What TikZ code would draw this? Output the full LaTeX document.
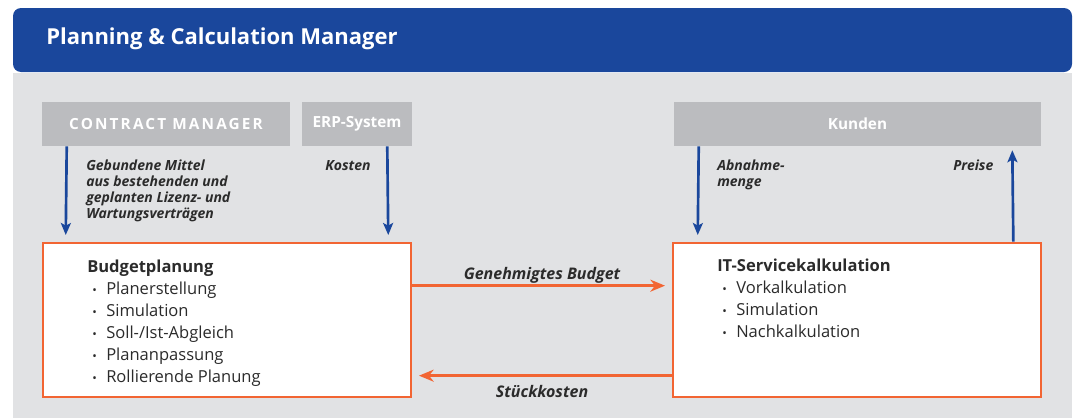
\documentclass[tikz,border=0pt]{standalone}
\usepackage{fontspec}
\setmainfont{Open Sans}
\usetikzlibrary{arrows.meta,calc}

\definecolor{pcmblue}{HTML}{1A479C}
\definecolor{panelgray}{HTML}{E1E2E4}
\definecolor{boxgray}{HTML}{BBBCBF}
\definecolor{pcmorange}{HTML}{F26533}
\definecolor{textdark}{HTML}{2B2B2B}

\newcommand{\bulletline}[1]{\hspace*{3.75pt}\makebox[10.5pt][l]{\raisebox{0.6pt}{\fontsize{9}{9}\selectfont\textbullet}}#1}

\tikzset{
  graybox/.style={fill=boxgray, text=white, inner sep=0pt, minimum height=33pt,
    font=\fontsize{11.5}{13}\selectfont\bfseries},
  taskbox/.style={draw=pcmorange, fill=white, line width=2pt, inner sep=0pt,
    minimum width=276pt, minimum height=115.5pt},
  tasktext/.style={anchor=north west, inner sep=0pt, align=left, text=textdark,
    font=\fontsize{12.4}{16.5}\selectfont},
  flowlabel/.style={anchor=north west, inner sep=0pt, align=left, text=textdark,
    font=\fontsize{10.5}{12}\selectfont\bfseries\itshape},
  bluearrow/.style={draw=pcmblue, line width=2pt,
    -{Stealth[length=9pt,width=7.5pt,inset=2pt]}},
  orangearrow/.style={draw=pcmorange, line width=1.8pt,
    -{Stealth[length=11pt,width=9pt,inset=3.5pt]}}
}

\begin{document}
\begin{tikzpicture}[x=0.75pt,y=-0.75pt]
  \useasboundingbox (0,0) rectangle (1074,418);
  % panel and header
  \fill[panelgray] (13,73) rectangle (1072,418);
  \fill[pcmblue, rounded corners=6] (13,8) rectangle (1072,72);
  \node[anchor=west, inner sep=0pt, text=white, font=\fontsize{16.5}{19}\selectfont\bfseries]
    (title) at (46,39) {Planning \& Calculation Manager};

  % sources
  \node[graybox, minimum width=186pt] (cm) at (166,124)
    {\addfontfeature{LetterSpace=14}CONTRACT MANAGER};
  \node[graybox, minimum width=82.5pt] (erp) at (357,124) {ERP-System};
  \node[graybox, minimum width=275.25pt] (kd) at (857.5,124) {Kunden};

  % task boxes
  \node[taskbox] (bp) at (227,320) {};
  \node[taskbox] (it) at (857,320) {};
  \node[tasktext] (bptext) at (87,260) {\textbf{Budgetplanung}\\
    \bulletline{Planerstellung}\\
    \bulletline{Simulation}\\
    \bulletline{Soll-/Ist-Abgleich}\\
    \bulletline{Plananpassung}\\
    \bulletline{Rollierende Planung}};
  \node[tasktext] (ittext) at (717,259) {\textbf{IT-Servicekalkulation}\\
    \bulletline{Vorkalkulation}\\
    \bulletline{Simulation}\\
    \bulletline{Nachkalkulation}};

  % blue flows
  \draw[bluearrow, shorten >=5pt] ($(cm.south west)+(25,0)$) -- ($(bp.north west)+(24,0)$);
  \draw[bluearrow, shorten >=5pt] ($(erp.south east)+(-25,0)$) -- ($(bp.north east)+(-24,0)$);
  \draw[bluearrow, shorten >=5pt] ($(kd.south west)+(25,0)$) -- ($(it.north west)+(26,0)$);
  \draw[bluearrow, shorten >=3pt] ($(it.north east)+(-29,0)$) -- ($(kd.south east)+(-29,0)$);
  \node[flowlabel] (cmlabel) at (86,160) {Gebundene Mittel\\aus bestehenden und\\geplanten Lizenz- und\\Wartungsverträgen};
  \node[flowlabel] (erplabel) at (325,160) {Kosten};
  \node[flowlabel] (kdlabel) at (717,160) {Abnahme-\\menge};
  \node[flowlabel] (prlabel) at (953,160) {Preise};

  % orange flows
  \draw[orangearrow, shorten >=5pt] ($(bp.north east)+(0,44)$) --
    node[above=1pt, flowlabel, anchor=south, font=\fontsize{12}{14}\selectfont\bfseries\itshape] (budget) {Genehmigtes Budget}
    ($(it.north west)+(0,44)$);
  \draw[orangearrow, shorten >=5pt] ($(it.north west)+(0,134)$) --
    node[below=6pt, flowlabel, anchor=north, font=\fontsize{12}{14}\selectfont\bfseries\itshape] (cost) {Stückkosten}
    ($(bp.north east)+(0,134)$);
\end{tikzpicture}
\end{document}
